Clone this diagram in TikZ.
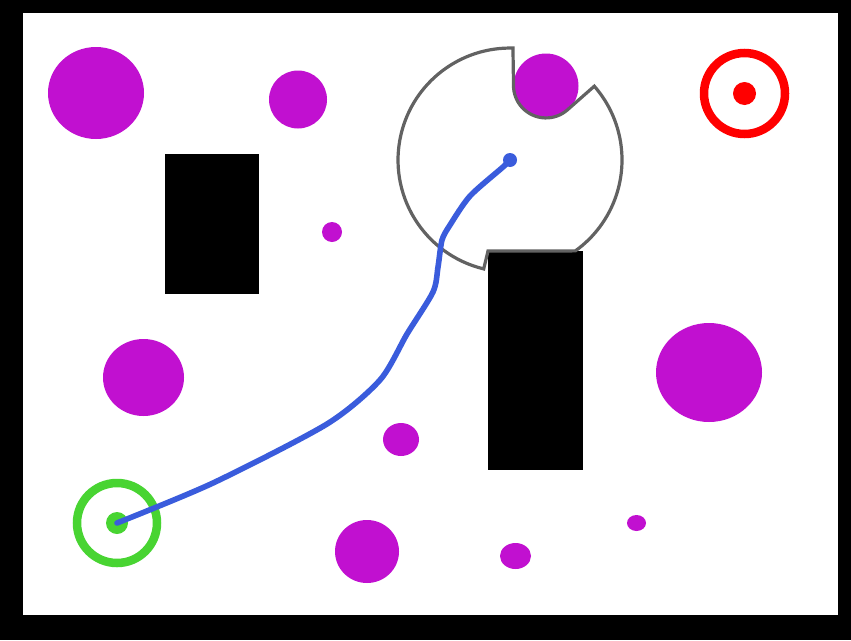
\documentclass[tikz,border=0pt]{standalone}
\usepackage{tikz}
\definecolor{obst}{RGB}{193,16,208}
\definecolor{pathblue}{RGB}{58,92,220}
\definecolor{startgreen}{RGB}{72,212,50}
\definecolor{goalred}{RGB}{255,0,0}
\definecolor{sensorgrey}{RGB}{98,98,98}
\tikzset{
  blob/.style={fill=obst, draw=none},
  wall/.style={fill=black, draw=none},
  sensorline/.style={draw=sensorgrey, line width=3.2pt, line join=miter},
  trail/.style={draw=pathblue, line width=5.6pt, line cap=round, line join=round},
}
\begin{document}
\begin{tikzpicture}[x=1pt,y=-1pt]
\useasboundingbox (0,0) rectangle (851,640);
\fill[black] (0,0) rectangle (851,640);
\fill[white] (23,13) rectangle (838,615);
% circular obstacles
\fill[blob] (96,93) ellipse [x radius=48, y radius=46];
\fill[blob] (298,99.5) circle [radius=29];
\fill[blob] (332,232) circle [radius=10];
\fill[blob] (546,86) circle [radius=32.5];
\fill[blob] (143.5,377.5) ellipse [x radius=40.5, y radius=38.5];
\fill[blob] (401,439.5) ellipse [x radius=18, y radius=16.5];
\fill[blob] (709,372.5) ellipse [x radius=53, y radius=49.5];
\fill[blob] (367,551.5) ellipse [x radius=32, y radius=31.5];
\fill[blob] (515.5,556) ellipse [x radius=15.5, y radius=13];
\fill[blob] (636.5,523) ellipse [x radius=9.5, y radius=8];
% rectangular obstacles
\fill[wall] (165,154) rectangle (259,294);
\fill[wall] (488,251) rectangle (583,470);
% sensor field of view
\draw[sensorline] (594.3,86.2) arc[start angle=-41.18, end angle=54.3, radius=112]
  -- (488,251) -- (483.7,268.9)
  arc[start angle=103.6, end angle=271.5, radius=112]
  -- (513.5,84.3) arc[start angle=182.0, end angle=48.9, radius=32.5] -- cycle;
% start
\coordinate (start) at (117,523);
\coordinate (robot) at (510,160);
\coordinate (goal) at (744.5,93.5);
\draw[startgreen, line width=8.5pt] (start) circle [radius=40];
\fill[startgreen] (start) circle [radius=11];
% goal
\draw[goalred, line width=8.5pt] (goal) circle [radius=40.5];
\fill[goalred] (goal) circle [radius=11.5];
% trajectory
\draw[trail] plot[smooth, tension=0.45] coordinates {(start) (213,483) (327,424) (380,380) (407,334) (433,292) (438,267) (442,240) (450,225) (470,196) (503,167) (robot)};
\fill[pathblue] (robot) circle [radius=7];
\end{tikzpicture}
\end{document}
